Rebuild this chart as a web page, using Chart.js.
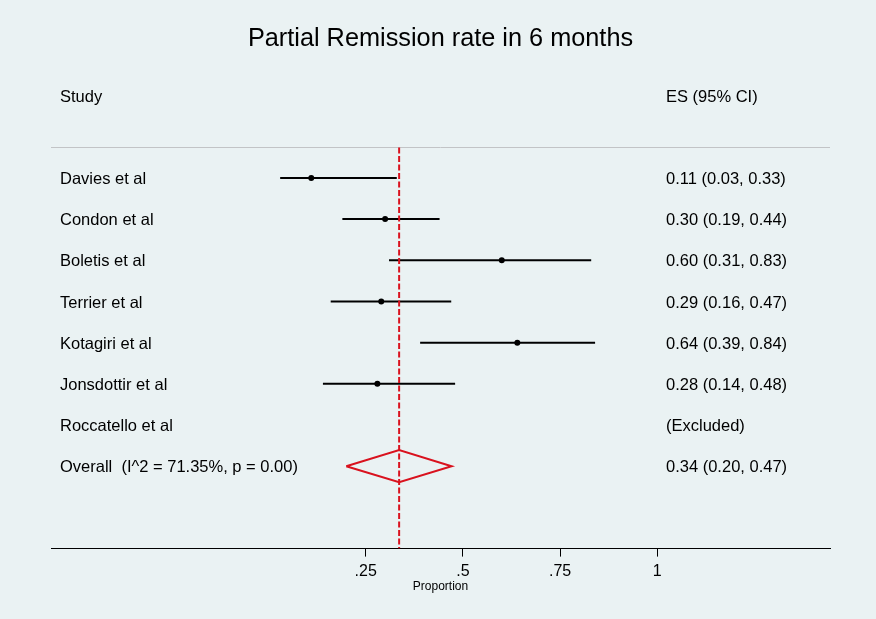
<!DOCTYPE html>
<html><head><meta charset="utf-8">
<script src="https://cdn.jsdelivr.net/npm/chart.js@4"></script>
<style>html,body{margin:0;padding:0;background:#eaf2f3;} canvas{display:block;}</style>
</head><body>
<canvas id="c" width="876" height="619"></canvas>
<script>
// ---- data ----
const chartTitle = 'Partial Remission rate in 6 months';
const studyHeader = 'Study';
const esHeader = 'ES (95% CI)';
const axisTitle = 'Proportion';
const studies = ['Davies et al','Condon et al','Boletis et al','Terrier et al','Kotagiri et al','Jonsdottir et al','Roccatello et al'];
const esValues = [0.11, 0.30, 0.60, 0.29, 0.64, 0.28, null];
const ciLower  = [0.03, 0.19, 0.31, 0.16, 0.39, 0.14, null];
const ciUpper  = [0.33, 0.44, 0.83, 0.47, 0.84, 0.48, null];
const esLabels = ['0.11 (0.03, 0.33)','0.30 (0.19, 0.44)','0.60 (0.31, 0.83)','0.29 (0.16, 0.47)','0.64 (0.39, 0.84)','0.28 (0.14, 0.48)','(Excluded)'];
const overallLabel = 'Overall  (I^2 = 71.35%, p = 0.00)';
const overallES = 0.336;
const overallLower = 0.20;
const overallUpper = 0.471;
const overallESLabel = '0.34 (0.20, 0.47)';
const tickValues = [0.25, 0.5, 0.75, 1];
const tickLabels = ['.25', '.5', '.75', '1'];

// ---- layout constants (rows on the y scale) ----
const HEADER_ROW = 0;
const FIRST_ROW = 2;
const OVERALL_ROW = FIRST_ROW + studies.length;
const SEP_ROW = 1.26;
const Y_MIN = -1, Y_MAX = 11;
const X_MIN = -0.5594, X_MAX = 1.4442;
const DIAMOND_HALF = 0.39;
const RED = '#d9121e';
const FONT = "'Liberation Sans', Arial, sans-serif";

Chart.defaults.font.family = FONT;
Chart.defaults.color = '#000';

const datasets = [];
// dashed overall line (on top)
datasets.push({
  data: [{x: overallES, y: SEP_ROW}, {x: overallES, y: Y_MAX}],
  showLine: true, borderColor: RED, borderWidth: 2, borderDash: [6, 2.5],
  pointRadius: 0, order: 0
});
// CI lines
studies.forEach((s, i) => {
  if (esValues[i] == null) return;
  datasets.push({
    data: [{x: ciLower[i], y: FIRST_ROW + i}, {x: ciUpper[i], y: FIRST_ROW + i}],
    showLine: true, borderColor: '#000', borderWidth: 2, pointRadius: 0, order: 3
  });
});
// point estimates
datasets.push({
  data: studies.map((s, i) => esValues[i] == null ? null : {x: esValues[i], y: FIRST_ROW + i}).filter(p => p),
  showLine: false, pointRadius: 3, pointBackgroundColor: '#000', pointBorderColor: '#000', pointBorderWidth: 0, order: 2
});
// overall diamond
datasets.push({
  data: [
    {x: overallLower, y: OVERALL_ROW},
    {x: overallES, y: OVERALL_ROW - DIAMOND_HALF},
    {x: overallUpper, y: OVERALL_ROW},
    {x: overallES, y: OVERALL_ROW + DIAMOND_HALF},
    {x: overallLower, y: OVERALL_ROW}
  ],
  showLine: true, borderColor: RED, borderWidth: 2, pointRadius: 0, order: 1, tension: 0
});

const bgPlugin = {
  id: 'bg',
  beforeDraw(chart) {
    const ctx = chart.ctx;
    ctx.save();
    ctx.fillStyle = '#eaf2f3';
    ctx.fillRect(0, 0, chart.width, chart.height);
    ctx.restore();
  },
  beforeDatasetsDraw(chart) {
    const ctx = chart.ctx, a = chart.chartArea, y = chart.scales.y;
    const py = Math.round(y.getPixelForValue(SEP_ROW)) + 0.5;
    ctx.save();
    ctx.strokeStyle = '#c2c4c6';
    ctx.lineWidth = 1;
    ctx.beginPath(); ctx.moveTo(a.left, py); ctx.lineTo(a.right, py); ctx.stroke();
    ctx.restore();
  },
  afterDatasetsDraw(chart) {
    const ctx = chart.ctx, a = chart.chartArea, y = chart.scales.y;
    const lx = a.left + 9, rx = a.left + 615;
    ctx.save();
    ctx.fillStyle = '#000';
    ctx.font = '16.5px ' + FONT;
    ctx.textBaseline = 'middle';
    ctx.textAlign = 'left';
    const put = (t, x, row) => ctx.fillText(t, x, y.getPixelForValue(row) + 1.5);
    put(studyHeader, lx, HEADER_ROW);
    put(esHeader, rx, HEADER_ROW);
    studies.forEach((s, i) => { put(s, lx, FIRST_ROW + i); put(esLabels[i], rx, FIRST_ROW + i); });
    put(overallLabel, lx, OVERALL_ROW);
    put(overallESLabel, rx, OVERALL_ROW);
    ctx.restore();
  }
};

new Chart(document.getElementById('c'), {
  type: 'scatter',
  data: { datasets },
  options: {
    responsive: false,
    animation: false,
    devicePixelRatio: 1,
    layout: { padding: { left: 51, right: 46, top: 0, bottom: 25 } },
    plugins: {
      legend: { display: false },
      tooltip: { enabled: false },
      title: { display: true, text: chartTitle, color: '#000', font: { size: 25.3, weight: 'normal', lineHeight: 1.2 }, padding: { top: 24, bottom: 0 } }
    },
    scales: {
      x: {
        type: 'linear', min: X_MIN, max: X_MAX, position: 'bottom',
        afterBuildTicks: s => { s.ticks = tickValues.map(v => ({ value: v })); },
        ticks: {
          callback: v => tickLabels[tickValues.indexOf(v)],
          font: { size: 16, lineHeight: 1 }, color: '#000', padding: 7,
          maxRotation: 0, autoSkip: false
        },
        grid: { drawOnChartArea: false, drawTicks: true, tickLength: 8, color: '#000', lineWidth: 1 },
        border: { display: true, color: '#000', width: 1 },
        title: { display: true, text: axisTitle, color: '#000', font: { size: 12, lineHeight: 1.2 }, padding: { top: -7, bottom: 0 } }
      },
      y: { type: 'linear', min: Y_MIN, max: Y_MAX, reverse: true, display: false }
    }
  },
  plugins: [bgPlugin]
});
</script>
</body></html>
